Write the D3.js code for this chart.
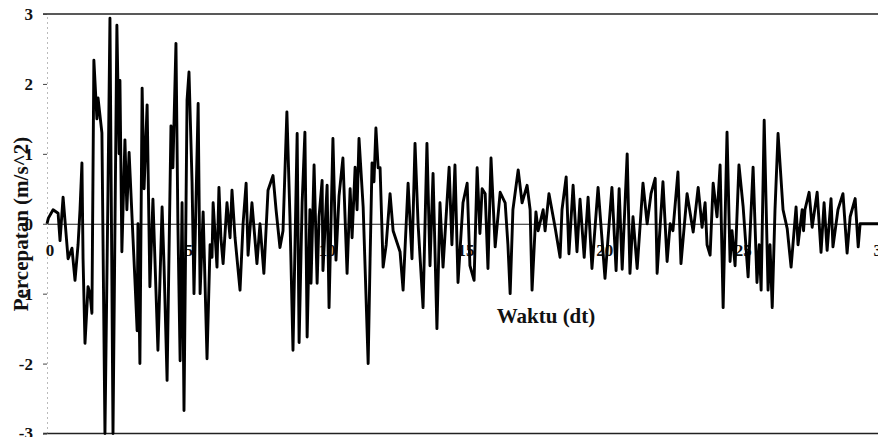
<!DOCTYPE html>
<html lang="en">
<head>
    <meta charset="UTF-8">
    <title>Percepatan vs Waktu</title>
    <script src="https://d3js.org/d3.v7.min.js"></script>
    <style>
        body {
            margin: 0;
            background: #fff;
        }

        svg text {
            font-family: "Liberation Serif", "Times New Roman", serif;
            font-weight: bold;
            fill: #111;
        }
    </style>
</head>
<body>
    <svg width="878" height="437"></svg>
    <script>
        // ground acceleration record: [time (dt), acceleration (m/s^2)]
        const accelRecord = [
            [0, 0], [0.05, 0.08], [0.22, 0.2], [0.40, 0.15], [0.47, -0.24], [0.58, 0.38], [0.76, -0.5],
            [0.90, -0.35], [1.01, -0.81], [1.12, -0.3], [1.19, 0.2], [1.26, 0.87], [1.30, -0.5], [1.37, -1.71],
            [1.48, -0.9], [1.55, -1.0], [1.62, -1.28], [1.69, 2.34], [1.80, 1.5], [1.84, 1.8], [1.98, 1.3],
            [2.09, -3.0], [2.20, 0.5], [2.27, 2.94], [2.38, -3.0], [2.52, 2.84], [2.60, 1.0], [2.63, 2.05],
            [2.70, -0.4], [2.81, 1.2], [2.88, 0.2], [2.96, 1.02], [3.10, -0.2], [3.17, -0.8], [3.25, -1.53],
            [3.28, 0.0], [3.35, -2.0], [3.43, 1.94], [3.50, 0.5], [3.61, 1.7], [3.71, -0.9], [3.82, 0.35],
            [4.00, -1.81], [4.15, 0.24], [4.22, -0.6], [4.33, -2.24], [4.47, 1.4], [4.54, 0.8], [4.65, 2.58],
            [4.72, 0.0], [4.80, -1.96], [4.87, 0.3], [4.94, -2.67], [5.05, 1.77], [5.12, 2.17], [5.23, 0.6],
            [5.30, -1.0], [5.45, 1.72], [5.52, -1.0], [5.63, 0.17], [5.77, -1.93], [5.88, -0.3], [5.95, -0.48],
            [5.99, 0.3], [6.13, -0.62], [6.20, 0.52], [6.27, -0.2], [6.35, -0.57], [6.49, 0.3], [6.60, -0.2],
            [6.67, 0.48], [6.78, -0.2], [6.96, -0.95], [7.07, 0.0], [7.18, 0.58], [7.25, -0.45], [7.39, 0.3],
            [7.57, -0.57], [7.68, 0.0], [7.82, -0.71], [7.97, 0.48], [8.15, 0.69], [8.26, 0.2], [8.40, -0.34],
            [8.51, -0.1], [8.65, 1.6], [8.76, 0.1], [8.87, -1.81], [9.02, 1.29], [9.09, -1.7], [9.20, 0.3],
            [9.30, 1.31], [9.38, -1.62], [9.48, 0.2], [9.52, -0.85], [9.63, 0.84], [9.74, -0.85], [9.81, 0.1],
            [9.92, 0.62], [9.95, -0.67], [10.10, 0.55], [10.17, -1.2], [10.31, 1.22], [10.42, -0.52],
            [10.53, 0.4], [10.67, 0.94], [10.82, -0.71], [10.93, 0.5], [11.00, -0.2], [11.11, 0.81],
            [11.18, 0.2], [11.25, 1.22], [11.40, 0.24], [11.50, -1.0], [11.58, -2.0], [11.65, -0.5],
            [11.72, 0.87], [11.79, 0.6], [11.86, 1.37], [11.94, 0.8], [12.01, 0.8], [12.12, -0.62],
            [12.23, -0.3], [12.37, 0.43], [12.48, -0.1], [12.73, -0.4], [12.84, -0.95], [13.02, 0.58],
            [13.16, -0.5], [13.27, 1.15], [13.38, 0.0], [13.56, -1.2], [13.70, 1.15], [13.81, -0.6],
            [13.92, 0.72], [14.06, -1.5], [14.17, 0.3], [14.28, -0.62], [14.50, 0.81], [14.60, -0.3],
            [14.71, 0.84], [14.82, -0.84], [15.00, 0.3], [15.15, 0.58], [15.25, -0.6], [15.40, -0.81],
            [15.51, 0.8], [15.61, -0.14], [15.69, 0.5], [15.80, 0.43], [15.90, -0.64], [16.01, 0.94],
            [16.16, -0.33], [16.34, 0.45], [16.52, 0.3], [16.62, -0.3], [16.70, -1.0], [16.80, 0.2],
            [16.99, 0.77], [17.13, 0.3], [17.31, 0.55], [17.42, 0.2], [17.49, -0.95], [17.63, 0.17],
            [17.71, -0.1], [17.89, 0.2], [17.96, -0.1], [18.10, 0.43], [18.32, -0.05], [18.50, -0.48],
            [18.57, 0.2], [18.72, 0.67], [18.82, -0.43], [18.97, 0.55], [19.11, -0.4], [19.22, 0.35],
            [19.37, -0.48], [19.51, 0.38], [19.65, -0.64], [19.87, 0.52], [20.12, -0.78], [20.37, 0.52],
            [20.52, -0.67], [20.63, 0.5], [20.74, -0.65], [20.92, 1.0], [21.02, -0.71], [21.13, 0.1],
            [21.28, -0.64], [21.49, 0.58], [21.64, 0.0], [21.78, 0.43], [21.93, 0.65], [22.00, -0.71],
            [22.21, 0.6], [22.36, -0.54], [22.47, 0.0], [22.57, -0.1], [22.75, 0.74], [22.86, -0.57],
            [23.08, 0.43], [23.30, -0.12], [23.48, 0.52], [23.62, -0.05], [23.73, 0.3], [23.80, -0.3],
            [23.91, -0.45], [24.02, 0.58], [24.16, 0.1], [24.27, 0.84], [24.38, -1.2], [24.52, 1.31],
            [24.63, -0.54], [24.70, -0.1], [24.81, -0.6], [24.95, 0.84], [25.10, 0.25], [25.28, -0.76],
            [25.46, 0.81], [25.60, -0.84], [25.68, -0.3], [25.75, -0.95], [25.86, 1.48], [26.00, -0.95],
            [26.07, -0.3], [26.15, -1.2], [26.25, 0.2], [26.36, 1.29], [26.54, 0.2], [26.69, -0.07],
            [26.83, -0.62], [27.01, 0.24], [27.08, -0.3], [27.23, 0.2], [27.28, -0.1], [27.33, 0.2],
            [27.48, 0.45], [27.59, -0.05], [27.77, 0.45], [27.91, -0.41], [28.02, 0.3], [28.13, -0.38],
            [28.27, 0.36], [28.34, -0.33], [28.52, 0.2], [28.70, 0.43], [28.85, -0.42], [28.96, 0.1],
            [29.14, 0.36], [29.25, -0.33], [29.32, 0], [30, 0]
        ];

        const xTicks = [0, 5, 10, 15, 20, 25, 30];
        const yTicks = [-3, -2, -1, 0, 1, 2, 3];
        const xTitle = "Waktu (dt)";
        const yTitle = "Percepatan (m/s^2)";

        const svg = d3.select("svg");

        const x = d3.scaleLinear().domain([0, 30]).range([47, 879]);
        const y = d3.scaleLinear().domain([-3, 3]).range([433.5, 14]);

        // top and bottom border lines (at +3 / -3)
        svg.append("g")
            .selectAll("line")
            .data([3, -3])
            .enter()
            .append("line")
            .attr("x1", 43)
            .attr("x2", 878)
            .attr("y1", d => y(d))
            .attr("y2", d => y(d))
            .attr("stroke", "#222")
            .attr("stroke-width", 1.3);

        // y axis, dotted spine
        const yAxis = svg.append("g")
            .attr("transform", `translate(${x(0)},0)`)
            .call(d3.axisLeft(y).tickValues(yTicks).tickSize(4).tickPadding(10).tickFormat(d => String(d)));
        yAxis.select(".domain")
            .attr("stroke", "#777")
            .attr("stroke-dasharray", "1,4");
        yAxis.selectAll(".tick line").attr("stroke", "#444");
        yAxis.selectAll("text")
            .attr("font-size", 17)
            .attr("fill", "#111");

        // x axis through zero
        const xAxis = svg.append("g")
            .attr("transform", `translate(0,${y(0)})`)
            .call(d3.axisBottom(x).tickValues(xTicks).tickSize(0).tickPadding(20).tickFormat(d => String(d)));
        xAxis.select(".domain")
            .attr("stroke", "#222")
            .attr("stroke-width", 1);
        xAxis.selectAll("text")
            .attr("font-size", 17)
            .attr("dx", 2.5)
            .attr("fill", "#111");

        // the record
        const line = d3.line()
            .x(d => x(d[0]))
            .y(d => y(d[1]));

        svg.append("path")
            .datum(accelRecord)
            .attr("d", line)
            .attr("fill", "none")
            .attr("stroke", "#000")
            .attr("stroke-width", 2.9)
            .attr("stroke-linejoin", "round");

        // titles
        svg.append("text")
            .attr("x", 546)
            .attr("y", 323)
            .attr("text-anchor", "middle")
            .attr("font-size", 21)
            .text(xTitle);

        svg.append("text")
            .attr("transform", "translate(28,224) rotate(-90)")
            .attr("text-anchor", "middle")
            .attr("font-size", 21)
            .text(yTitle);
    </script>
</body>
</html>
